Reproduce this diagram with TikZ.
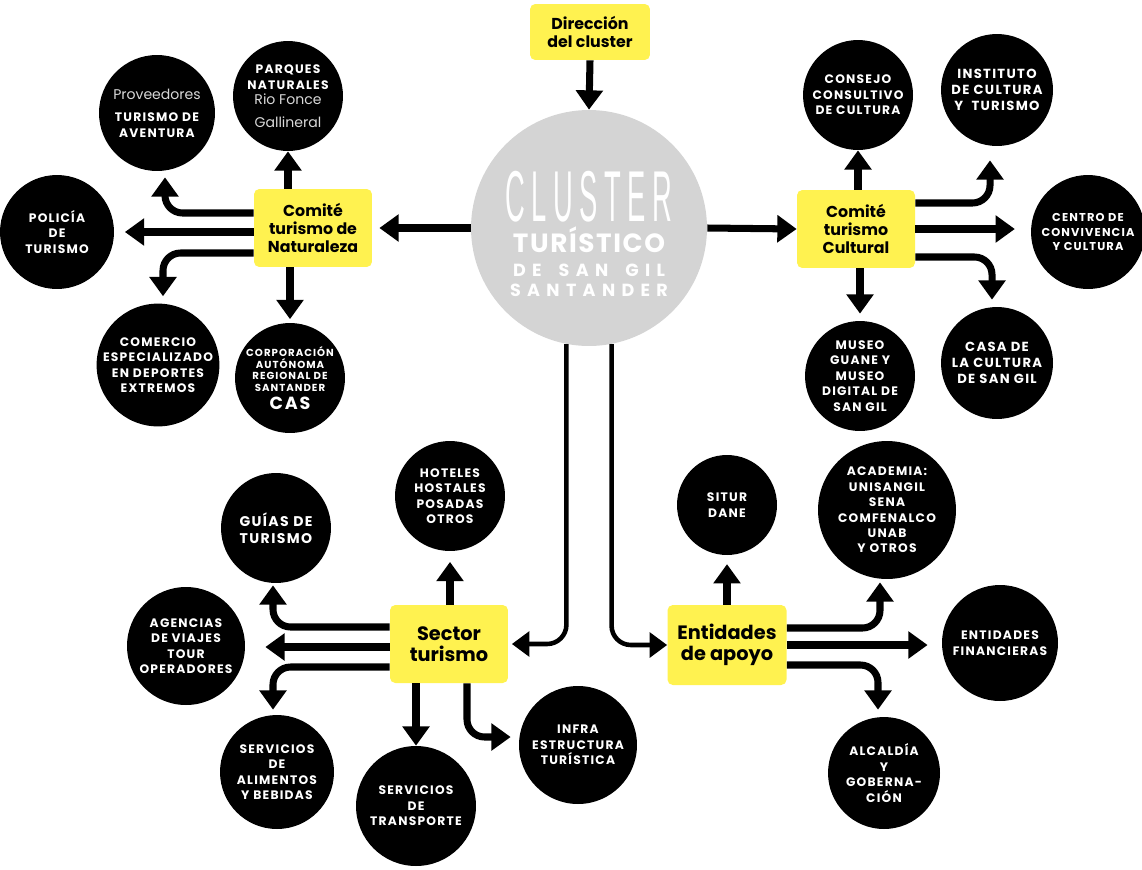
\documentclass[tikz,border=0pt]{standalone}
\usepackage{fontspec}
\usepackage{graphicx}
\setmainfont{Poppins}
\newfontfamily\bubblefont[LetterSpace=10]{Poppins}
\newfontfamily\thinfont[LetterSpace=24]{Liberation Sans}
\newfontfamily\titlefont[LetterSpace=6]{Poppins}
\newfontfamily\widefont[LetterSpace=36]{Poppins}
\usetikzlibrary{arrows.meta,calc,positioning}
\definecolor{amarillo}{RGB}{255,242,80}
\definecolor{gris}{RGB}{212,212,212}
\newcommand{\suave}[1]{{\normalfont\fontsize{8}{9}\selectfont\color{white!85!black}#1}}
\tikzset{
  caja/.style={fill=amarillo, rounded corners=3pt, align=center, minimum width=2.36cm, minimum height=1.56cm, inner sep=2pt, font=\bfseries\fontsize{9}{10}\selectfont},
  bola/.style={circle, fill=black, text=white, inner sep=0pt, align=center, minimum size=#1, font=\bubblefont\bfseries\fontsize{7}{8.8}\selectfont},
  rotulo/.style={text=white, inner sep=0pt},
  flecha/.style={line width=4pt, -{Triangle[width=15pt,length=11pt]}},
  curva/.style={flecha, rounded corners=10pt},
  flechafina/.style={line width=2.6pt, -{Triangle[width=14pt,length=10pt]}, rounded corners=11pt}
}

\begin{document}
\begin{tikzpicture}[x=0.02cm, y=-0.02cm]
			%%%%% START %%%%%
			\useasboundingbox (0,0) rectangle (1142,869);
			
			% centro
			\node[bola=4.72cm, fill=gris] (cluster) at (589,228) {};
			\node[rotulo, font=\thinfont\fontsize{41}{41}\selectfont] (tcluster) at (589,197) {\scalebox{0.38}[1]{CLUSTER}};
			\node[rotulo, text height=11pt, text depth=0pt, font=\titlefont\bfseries\fontsize{15}{15}\selectfont] (tturistico) at (589,243) {TURÍSTICO};
			\node[rotulo, font=\widefont\bfseries\fontsize{10}{10}\selectfont] (tsangil) at (589,270) {DE \hspace{4pt}SAN \hspace{4pt}GIL};
			\node[rotulo, font=\widefont\bfseries\fontsize{10}{10}\selectfont] (tsantander) at (589,290) {SANTANDER};
			
			\node[caja, minimum width=2.4cm, minimum height=1.12cm] (dir) at (590,32) {Dirección\\del cluster};
			
			\node[caja] (nat) at (313,228) {Comité\\turismo de\\Naturaleza};
			\node[caja] (cul) at (856,229) {Comité\\turismo\\Cultural};
			\node[caja, font=\bfseries\fontsize{11}{12}\selectfont] (sec) at (449,644) {Sector\\turismo};
			\node[caja, minimum width=2.38cm, minimum height=1.6cm, font=\bfseries\fontsize{11}{12}\selectfont] (apoyo) at (727,645) {Entidades\\de apoyo};
			
			% naturaleza
			\node[bola=2.32cm] (aventura) at (157,113) {\suave{Proveedores}\\[4pt]TURISMO DE\\AVENTURA};
			\node[bola=2.2cm] (parques) at (288,96) {PARQUES\\NATURALES\\\suave{Rio Fonce}\\[4pt]\suave{Gallineral}};
			\node[bola=2.28cm] (policia) at (57,232) {POLICÍA\\DE\\TURISMO};
			\node[bola=2.32cm] (comercio) at (158,365) {COMERCIO\\ESPECIALIZADO\\EN DEPORTES\\EXTREMOS};
			\node[bola=2.2cm, font=\bubblefont\bfseries\fontsize{5.8}{6.8}\selectfont] (cas) at (290,378) {CORPORACIÓN\\AUTÓNOMA\\REGIONAL DE\\SANTANDER\\[2pt]{\fontsize{10}{11}\selectfont CAS}};
			
			% cultural
			\node[bola=2.2cm] (consejo) at (858,95) {CONSEJO\\CONSULTIVO\\DE CULTURA};
			\node[bola=2.24cm, font=\bubblefont\bfseries\fontsize{7.5}{9}\selectfont] (instituto) at (997,90) {INSTITUTO\\DE CULTURA\\Y\ \ TURISMO};
			\node[bola=2.28cm, font=\bubblefont\bfseries\fontsize{6.5}{8}\selectfont] (centro) at (1088,232) {CENTRO DE\\CONVIVENCIA\\Y CULTURA};
			\node[bola=2.2cm] (museo) at (860,376) {MUSEO\\GUANE Y\\MUSEO\\DIGITAL DE\\SAN GIL};
			\node[bola=2.24cm, font=\bubblefont\bfseries\fontsize{7.5}{9}\selectfont] (casa) at (997,363) {CASA DE\\LA CULTURA\\DE SAN GIL};
			
			% sector turismo
			\node[bola=2.2cm] (hoteles) at (450,496) {HOTELES\\HOSTALES\\POSADAS\\OTROS};
			\node[bola=2.2cm, font=\bubblefont\bfseries\fontsize{8}{9.5}\selectfont] (guias) at (276,528) {GUÍAS DE\\TURISMO};
			\node[bola=2.36cm] (agencias) at (186,646) {AGENCIAS\\DE VIAJES\\TOUR\\OPERADORES};
			\node[bola=2.28cm] (alimentos) at (277,772) {SERVICIOS\\DE\\ALIMENTOS\\Y BEBIDAS};
			\node[bola=2.4cm] (transporte) at (416,806) {SERVICIOS\\DE\\TRANSPORTE};
			\node[bola=2.36cm] (infra) at (578,745) {INFRA\\ESTRUCTURA\\TURÍSTICA};
			
			% entidades de apoyo
			\node[bola=2cm] (situr) at (727,505) {SITUR\\DANE};
			\node[bola=2.76cm] (academia) at (887,510) {ACADEMIA:\\UNISANGIL\\SENA\\COMFENALCO\\UNAB\\Y OTROS};
			\node[bola=2.32cm] (financieras) at (1000,643) {ENTIDADES\\FINANCIERAS};
			\node[bola=2.24cm] (alcaldia) at (884,773) {ALCALDÍA\\Y\\GOBERNA-\\CIÓN};
			
			% flechas
			\draw[flecha] (dir.south) -- (cluster.north);
			\draw[flecha, shorten >=4pt] (cluster.west) -- (nat.east);
			\draw[flecha] (cluster.east) -- (cul.west);
			\draw[flechafina, shorten >=2pt] (cluster.259) |- (sec.east);
			\draw[flechafina] (cluster.281) |- (apoyo.west);
			
			\draw[flecha] (nat.north -| parques.south) -- (parques.south);
			\draw[flecha, shorten >=2pt] (nat.south -| cas.north) -- (cas.north);
			\draw[flecha, shorten >=6pt] (nat.west |- policia.east) -- (policia.east);
			\draw[curva] ($(nat.west)+(0,-15)$) -| ($(aventura.south)+(8,6)$);
			\draw[curva] ($(nat.west)+(0,25)$) -| ($(comercio.north)+(5,-7)$);
			
			\draw[flecha] (cul.north -| consejo.south) -- (consejo.south);
			\draw[flecha, shorten >=4pt] (cul.south -| museo.north) -- (museo.north);
			\draw[flecha, shorten >=9pt] (cul.east) -- (cul.east -| centro.west);
			\draw[curva] ($(cul.east)+(0,-26)$) -| ($(instituto.south)+(-7,14)$);
			\draw[curva] ($(cul.east)+(0,28)$) -| ($(casa.north)+(-5,-7)$);
			
			\draw[flecha, shorten >=6pt] (sec.north -| hoteles.south) -- (hoteles.south);
			\draw[curva] ($(sec.west)+(0,-17)$) -| ($(guias.south)+(-3,2)$);
			\draw[flecha] ($(sec.west)+(0,3)$) -- ($(agencias.east)+(20,1)$);
			\draw[curva] ($(sec.west)+(0,23)$) -| ($(alimentos.north)+(-4,-5)$);
			\draw[flecha] (sec.south -| transporte.north) -- (transporte.north);
			\draw[curva] ($(sec.south)+(18,0)$) |- ($(infra.west)+(-8,-8)$);
			
			\draw[flecha, shorten >=5pt] (apoyo.north) -- (situr.south);
			\draw[curva] ($(apoyo.east)+(0,-17)$) -| ($(academia.south)+(-7,3)$);
			\draw[flecha, shorten >=8pt] (apoyo.east) -- (apoyo.east -| financieras.west);
			\draw[curva] ($(apoyo.east)+(0,20)$) -| ($(alcaldia.north)+(-6,-7)$);
			%%%%% END %%%%%
\end{tikzpicture}
\end{document}
